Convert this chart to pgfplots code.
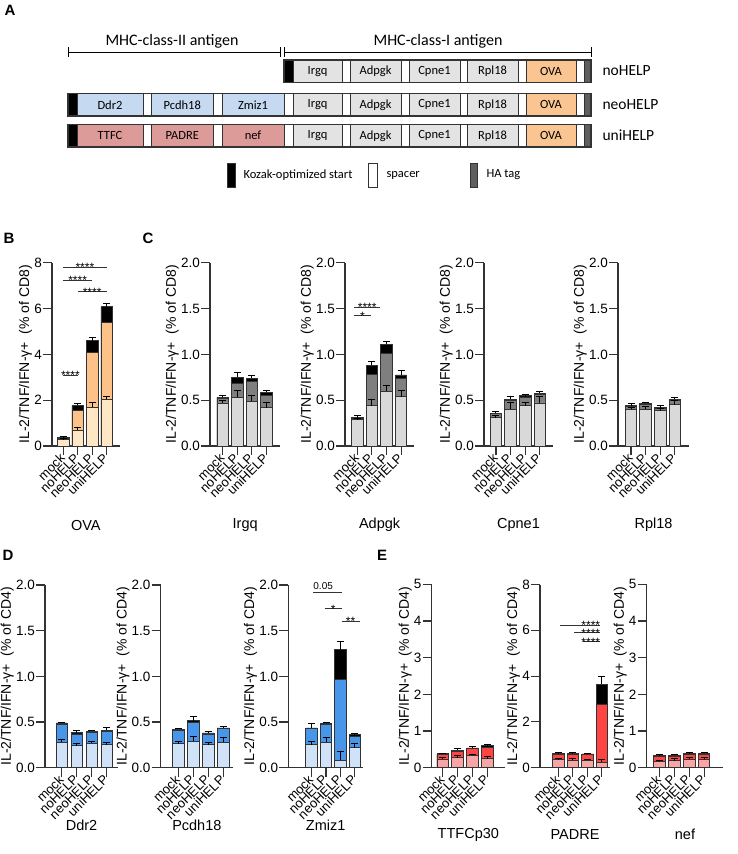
\documentclass[border=0pt]{standalone}
\usepackage{fontspec}
\setmainfont{Liberation Sans}
\newfontfamily\calib{Carlito}
\usepackage{pgfplots}
\pgfplotsset{compat=1.18}
\usepackage{pgfplotstable}

\definecolor{dk}{HTML}{333333}
\definecolor{ovaL}{HTML}{FFE7C6}
\definecolor{ovaM}{HTML}{FDC287}
\definecolor{gryL}{HTML}{D9D9D9}
\definecolor{gryM}{HTML}{7F7F7F}
\definecolor{bluL}{HTML}{CFE2F8}
\definecolor{bluM}{HTML}{4896EA}
\definecolor{redL}{HTML}{F7A5A5}
\definecolor{redM}{HTML}{FF4444}
\definecolor{boxB}{HTML}{C5D9F1}
\definecolor{boxR}{HTML}{DC9A98}
\definecolor{boxG}{HTML}{E3E3E3}
\definecolor{boxO}{HTML}{FAC591}
\definecolor{haG}{HTML}{5F5F5F}

% columns: x, a = bottom segment, b = bottom+middle, c = total, ea/ec = SEM
\pgfplotstableread{
x a b c ea ec
0 0.30 0.33 0.37 0.02 0.03
1 0.70 1.54 1.77 0.10 0.08
2 1.69 4.07 4.60 0.20 0.14
3 2.04 5.38 6.08 0.14 0.15
}\tOVA
\pgfplotstableread{
x a b c ea ec
0 0.47 0.52 0.53 0.03 0.02
1 0.53 0.68 0.75 0.08 0.05
2 0.49 0.70 0.74 0.06 0.03
3 0.42 0.55 0.585 0.05 0.025
}\tIrgq
\pgfplotstableread{
x a b c ea ec
0 0.29 0.305 0.31 0.01 0.02
1 0.44 0.785 0.88 0.065 0.04
2 0.60 1.01 1.11 0.065 0.03
3 0.54 0.74 0.775 0.07 0.045
}\tAdpgk
\pgfplotstableread{
x a b c ea ec
0 0.31 0.355 0.36 0.02 0.015
1 0.40 0.50 0.51 0.08 0.03
2 0.44 0.535 0.55 0.04 0.01
3 0.47 0.565 0.575 0.07 0.015
}\tCpne
\pgfplotstableread{
x a b c ea ec
0 0.40 0.43 0.44 0.02 0.02
1 0.40 0.45 0.465 0.03 0.015
2 0.385 0.41 0.42 0.02 0.02
3 0.45 0.50 0.51 0.05 0.02
}\tRpl
\pgfplotstableread{
x a b c ea ec
0 0.28 0.475 0.49 0.03 0.01
1 0.24 0.37 0.385 0.025 0.025
2 0.27 0.385 0.40 0.02 0.01
3 0.25 0.395 0.41 0.03 0.025
}\tDdr
\pgfplotstableread{
x a b c ea ec
0 0.265 0.41 0.42 0.02 0.01
1 0.29 0.50 0.515 0.05 0.045
2 0.25 0.37 0.38 0.03 0.02
3 0.28 0.425 0.435 0.05 0.02
}\tPcdh
\pgfplotstableread{
x a b c ea ec
0 0.25 0.43 0.435 0.035 0.05
1 0.28 0.475 0.485 0.05 0.015
2 0.08 0.97 1.29 0.10 0.09
3 0.22 0.345 0.36 0.04 0.015
}\tZmiz
\pgfplotstableread{
x a b c ea ec
0 0.24 0.36 0.38 0.05 0.02
1 0.27 0.44 0.47 0.07 0.05
2 0.34 0.52 0.54 0.03 0.03
3 0.25 0.56 0.60 0.05 0.03
}\tTTFC
\pgfplotstableread{
x a b c ea ec
0 0.36 0.58 0.62 0.04 0.03
1 0.34 0.58 0.62 0.05 0.06
2 0.34 0.56 0.60 0.04 0.04
3 0.24 2.75 3.65 0.10 0.33
}\tPADRE
\pgfplotstableread{
x a b c ea ec
0 0.18 0.30 0.33 0.03 0.03
1 0.19 0.31 0.345 0.05 0.02
2 0.23 0.355 0.39 0.04 0.02
3 0.23 0.355 0.39 0.04 0.03
}\tnef

\pgfplotsset{
  gp/.style={
    anchor=south west,
    axis lines*=left,
    axis line style={line width=1.1pt, dk, -},
    tick style={line width=1.1pt, dk},
    tick align=outside,
    major tick length=9pt,
    xtick={0,1,2,3},
    xticklabels={mock,noHELP,neoHELP,uniHELP},
    xticklabel style={rotate=45, anchor=east, inner sep=1pt, font=\fontsize{13}{13}\selectfont},
    yticklabel style={inner sep=1pt, font=\fontsize{13.5}{14}\selectfont},
    /pgf/number format/assume math mode=true,
    ymin=0, clip=false,
    ylabel style={font=\fontsize{14}{15}\selectfont, inner sep=1pt},
    xlabel style={font=\fontsize{14.5}{15}\selectfont, at={(axis description cs:0.5,0)}, anchor=center},
  },
  dec/.style={ytick={0,0.5,1,1.5,2}, ymax=2, yticklabel style={/pgf/number format/.cd, fixed, fixed zerofill, precision=1}},
  cdE/.style={ylabel={IL-2/TNF/IFN-γ+\ \ (\% of CD8)}},
  cdF/.style={ylabel={IL-2/TNF/IFN-γ+\ \ (\% of CD4)}},
  eb/.style={draw=none, mark=none, forget plot, error bars/.cd, y dir=plus, y explicit,
    error bar style={draw=black, line width=1pt},
    error mark options={draw=black, rotate=90, mark size=3.5pt, line width=1pt}},
}

\newcommand{\stack}[3]{%
  \addplot[ybar, bar width=11.5pt, bar shift=0pt, fill=black, draw=dk, line width=0.8pt] table[x=x,y=c]{#1};
  \addplot[ybar, bar width=11.5pt, bar shift=0pt, fill=#3, draw=dk, line width=0.8pt] table[x=x,y=b]{#1};
  \addplot[ybar, bar width=11.5pt, bar shift=0pt, fill=#2, draw=dk, line width=0.8pt] table[x=x,y=a]{#1};
  \addplot[eb] table[x=x,y=a,y error=ea]{#1};
  \addplot[eb] table[x=x,y=c,y error=ec]{#1};
}
% significance: x1 x2 y xtext text
\newcommand{\sig}[5]{%
  \draw[line width=0.9pt, dk] (axis cs:#1,#3) -- (axis cs:#2,#3);
  \node[anchor=base, yshift=-4.3pt, inner sep=0pt, font=\fontsize{12}{12}\selectfont] at (axis cs:#4,#3) {#5};
}

% panel A helpers
\newcommand{\seg}[5]{%
  \filldraw[fill=#4, draw=dk, line width=0.9pt] (#1pt,-#3pt) rectangle (#2pt,{-#3pt-22.5pt});
  \node[font=\calib\fontsize{12.5}{12.5}\selectfont, inner sep=0pt] at ({(#1pt+#2pt)/2},{-#3pt-11.25pt}) {#5};}
\newcommand{\rightpart}[2]{%
  \seg{284}{293}{#1}{#2}{}
  \seg{293}{342}{#1}{boxG}{Irgq}
  \seg{342}{350}{#1}{white}{}
  \seg{350}{401}{#1}{boxG}{Adpgk}
  \seg{401}{409}{#1}{white}{}
  \seg{409}{460}{#1}{boxG}{Cpne1}
  \seg{460}{467}{#1}{white}{}
  \seg{467}{518}{#1}{boxG}{Rpl18}
  \seg{518}{526}{#1}{white}{}
  \seg{526}{576}{#1}{boxO}{OVA}
  \seg{576}{584}{#1}{white}{}
  \seg{584}{591}{#1}{haG}{}}
\newcommand{\leftpart}[5]{%
  \seg{68}{77}{#1}{black}{}
  \seg{77}{143}{#1}{#2}{#3}
  \seg{143}{151.5}{#1}{white}{}
  \seg{151.5}{213}{#1}{#2}{#4}
  \seg{213}{222}{#1}{white}{}
  \seg{222}{284}{#1}{#2}{#5}}

\begin{document}
\begin{tikzpicture}
\path[use as bounding box, fill=white] (0,0) rectangle (738pt,-854pt);

% ---------- Panel A ----------
\tikzset{plab/.style={font=\bfseries\fontsize{15}{15}\selectfont, inner sep=0pt}}
\node[plab] at (10pt,-10pt) {A};
\node[font=\calib\fontsize{16}{16}\selectfont] at (172pt,-41pt) {MHC-class-II antigen};
\node[font=\calib\fontsize{16}{16}\selectfont] at (438pt,-41pt) {MHC-class-I antigen};
\draw[line width=1pt, black] (68pt,-52pt) -- (280pt,-52pt);
\draw[line width=1pt, black] (68pt,-47pt) -- (68pt,-57pt);
\draw[line width=1pt, black] (280pt,-47pt) -- (280pt,-57pt);
\draw[line width=1pt, black] (284pt,-52pt) -- (591pt,-52pt);
\draw[line width=1pt, black] (284pt,-47pt) -- (284pt,-57pt);
\draw[line width=1pt, black] (591pt,-47pt) -- (591pt,-57pt);

\rightpart{60}{black}
\leftpart{93.5}{boxB}{Ddr2}{Pcdh18}{Zmiz1}
\rightpart{93.5}{white}
\leftpart{124.5}{boxR}{TTFC}{PADRE}{nef}
\rightpart{124.5}{white}
\draw[line width=1.3pt, dk] (284pt,-60pt) rectangle (591pt,-82.5pt);
\draw[line width=1.3pt, dk] (68pt,-93.5pt) rectangle (591pt,-116pt);
\draw[line width=1.3pt, dk] (68pt,-124.5pt) rectangle (591pt,-147pt);
\node[anchor=west, font=\calib\fontsize{15.5}{16}\selectfont] at (599pt,-71pt) {noHELP};
\node[anchor=west, font=\calib\fontsize{15.5}{16}\selectfont] at (599pt,-104.5pt) {neoHELP};
\node[anchor=west, font=\calib\fontsize{15.5}{16}\selectfont] at (599pt,-135.5pt) {uniHELP};
% legend
\filldraw[fill=black, draw=dk, line width=0.9pt] (227pt,-163pt) rectangle (235pt,-187pt);
\node[anchor=west, font=\calib\fontsize{12.5}{12.5}\selectfont] at (240pt,-175pt) {Kozak-optimized start};
\filldraw[fill=white, draw=dk, line width=0.9pt] (368pt,-163pt) rectangle (377pt,-187pt);
\node[anchor=west, font=\calib\fontsize{12.5}{12.5}\selectfont] at (383pt,-175pt) {spacer};
\filldraw[fill=haG, draw=dk, line width=0.9pt] (470pt,-163pt) rectangle (477pt,-187pt);
\node[anchor=west, font=\calib\fontsize{12.5}{12.5}\selectfont] at (483pt,-175pt) {HA tag};

% ---------- Panel letters ----------
\node[plab] at (9pt,-238pt) {B};
\node[plab] at (148pt,-238pt) {C};
\node[plab] at (8pt,-555pt) {D};
\node[plab] at (382pt,-555pt) {E};

% ---------- Panel B ----------
\begin{axis}[gp, cdE, at={(52pt,-446pt)}, x=14.5pt, y=22.9pt, xmin=-0.77, xmax=3.9,
  ymax=8, ytick={0,2,4,6,8}, xlabel={OVA}, xlabel style={yshift=-79pt}]
\stack{\tOVA}{ovaL}{ovaM}
\sig{0}{3}{7.8}{1.5}{****}
\sig{0}{2}{7.24}{1}{****}
\sig{1}{3}{6.73}{2}{****}
\sig{0}{1}{3.1}{0.5}{****}
\end{axis}

% ---------- Panel C ----------
\begin{axis}[gp, dec, cdE, at={(210pt,-446pt)}, x=14.6pt, y=91.65pt, xmin=-0.87, xmax=3.95,
  xlabel={Irgq}, xlabel style={yshift=-79pt}]
\stack{\tIrgq}{gryL}{gryM}
\end{axis}
\begin{axis}[gp, dec, cdE, at={(345pt,-446pt)}, x=14.6pt, y=91.65pt, xmin=-0.84, xmax=3.9,
  xlabel={Adpgk}, xlabel style={yshift=-79pt}]
\stack{\tAdpgk}{gryL}{gryM}
\sig{-0.2}{1.55}{1.51}{0.68}{****}
\sig{-0.2}{0.92}{1.42}{0.35}{*}
\end{axis}
\begin{axis}[gp, dec, cdE, at={(484pt,-446pt)}, x=14.6pt, y=91.65pt, xmin=-0.82, xmax=3.9,
  xlabel={Cpne1}, xlabel style={yshift=-79pt}]
\stack{\tCpne}{gryL}{gryM}
\end{axis}
\begin{axis}[gp, dec, cdE, at={(618pt,-446pt)}, x=14.6pt, y=91.65pt, xmin=-0.89, xmax=3.97,
  xlabel={Rpl18}, xlabel style={yshift=-79pt}]
\stack{\tRpl}{gryL}{gryM}
\end{axis}

% ---------- Panel D ----------
\begin{axis}[gp, dec, cdF, at={(45pt,-767.7pt)}, x=15pt, y=91.35pt, xmin=-1.13, xmax=3.75,
  xlabel={Ddr2}, xlabel style={yshift=-58pt}]
\stack{\tDdr}{bluL}{bluM}
\end{axis}
\begin{axis}[gp, dec, cdF, at={(160.7pt,-767.7pt)}, x=15pt, y=91.35pt, xmin=-1.17, xmax=3.65,
  xlabel={Pcdh18}, xlabel style={yshift=-58pt}]
\stack{\tPcdh}{bluL}{bluM}
\end{axis}
\begin{axis}[gp, dec, cdF, at={(288.3pt,-767.7pt)}, x=14.4pt, y=91.35pt, xmin=-1.62, xmax=3.57,
  xlabel={Zmiz1}, xlabel style={yshift=-58pt}]
\stack{\tZmiz}{bluL}{bluM}
\draw[line width=0.9pt, dk] (axis cs:0.11,1.92) -- (axis cs:2.08,1.92);
\node[anchor=base, yshift=2.5pt, inner sep=0pt, font=\fontsize{10}{10}\selectfont] at (axis cs:0.8,1.92) {0.05};
\sig{0.92}{2.08}{1.74}{1.5}{*}
\sig{2.08}{3.35}{1.60}{2.7}{**}
\end{axis}

% ---------- Panel E ----------
\begin{axis}[gp, cdF, at={(431.7pt,-767.7pt)}, x=14.9pt, y=36.67pt, xmin=-0.74, xmax=4.18,
  ymax=5, ytick={0,1,2,3,4,5}, xlabel={TTFCp30}, xlabel style={yshift=-67pt}]
\stack{\tTTFC}{redL}{redM}
\end{axis}
\begin{axis}[gp, cdF, at={(540pt,-767.7pt)}, x=14.5pt, y=22.9pt, xmin=-1.26, xmax=3.57,
  ymax=8, ytick={0,2,4,6,8}, xlabel={PADRE}, xlabel style={yshift=-67pt}]
\stack{\tPADRE}{redL}{redM}
\sig{0.12}{2.87}{6.23}{2.24}{****}
\sig{1.08}{2.87}{5.89}{2.24}{****}
\sig{1.72}{2.87}{5.5}{2.24}{****}
\end{axis}
\begin{axis}[gp, cdF, at={(646.7pt,-767.7pt)}, x=14.9pt, y=36.67pt, xmin=-0.85, xmax=4.29,
  ymax=5, ytick={0,1,2,3,4,5}, xlabel={nef}, xlabel style={yshift=-67pt}]
\stack{\tnef}{redL}{redM}
\end{axis}
\end{tikzpicture}
\end{document}
